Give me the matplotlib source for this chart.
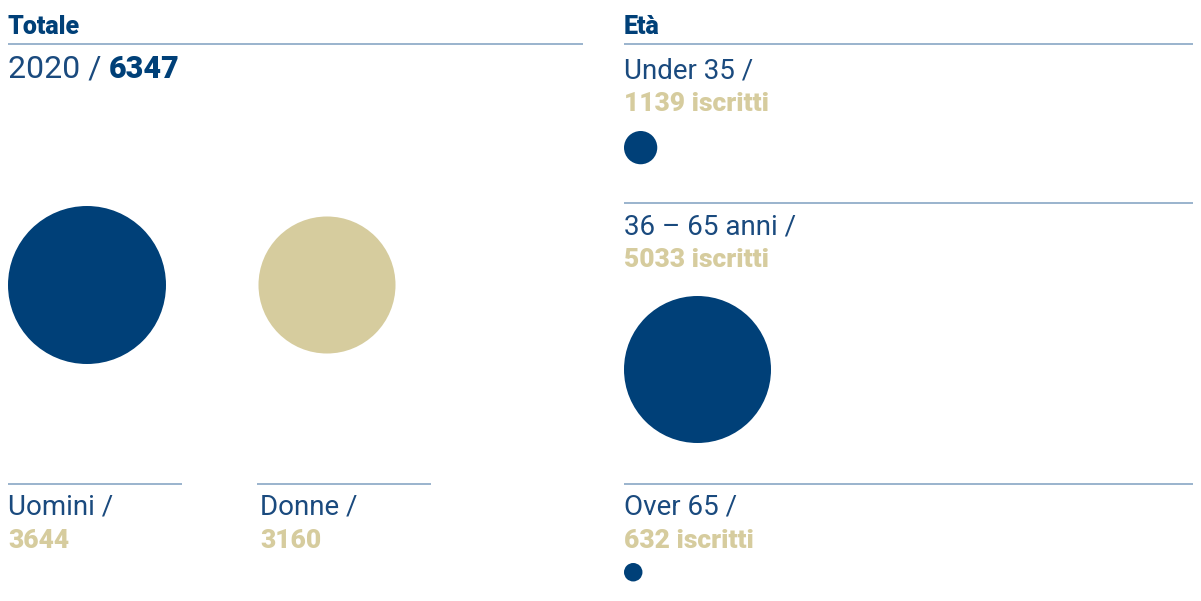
import matplotlib.pyplot as plt
from matplotlib.patches import Circle

plt.rcParams['font.family'] = ['Roboto', 'DejaVu Sans']

total_year = '2020'
total_value = 6347
gender_labels = ['Uomini', 'Donne']
gender_values = [3644, 3160]
age_labels = ['Under 35', '36 – 65 anni', 'Over 65']
age_values = [1139, 5033, 632]

blue = '#004078'
text_blue = '#1a4a7e'
beige = '#d6cc9e'
rule = '#7f9fc0'

fig = plt.figure(figsize=(12.01, 6.01), dpi=100)
ax = fig.add_axes([0, 0, 1, 1])
ax.set_xlim(0, 1201)
ax.set_ylim(601, 0)
ax.set_aspect('equal')
ax.axis('off')

# headers
ax.text(8, 34, 'Totale', fontsize=18, fontweight='heavy', color=blue, va='baseline')
ax.text(624, 34, 'Età', fontsize=18, fontweight='heavy', color=blue, va='baseline')
ax.hlines(44, 8, 583, color=rule, lw=1.1)
ax.hlines(44, 624, 1193, color=rule, lw=1.1)

t = ax.text(8, 78, total_year + ' /', fontsize=23, fontweight='normal', color=text_blue, va='baseline')
ax.annotate(str(total_value), xy=(1, 0), xycoords=t, xytext=(5, 0), textcoords='offset points',
            fontsize=22, fontweight='heavy', color=blue, va='bottom')

# gender bubbles (radius proportional to value)
g_scale = 79 / max(gender_values)
g_centers = [87, 327]
g_text_x = [8, 260]
g_line = [(8, 182), (257, 431)]
g_colors = [blue, beige]
for lab, val, cx, tx, ln, col in zip(gender_labels, gender_values, g_centers, g_text_x, g_line, g_colors):
    ax.add_patch(Circle((cx, 285), val * g_scale, color=col, lw=0))
    ax.hlines(484, ln[0], ln[1], color=rule, lw=1.1)
    ax.text(tx, 515, lab + ' /', fontsize=20, fontweight='normal', color=text_blue, va='baseline')
    ax.text(tx, 548, str(val), fontsize=19, fontweight='heavy', color=beige, va='baseline')

# age bubbles
a_scale = 73.5 / max(age_values)
a_line_y = [None, 203, 484]
a_label_y = [78, 234, 515]
a_circle_top = [131, 296, 563]
for lab, val, ly, ty, ct in zip(age_labels, age_values, a_line_y, a_label_y, a_circle_top):
    if ly is not None:
        ax.hlines(ly, 624, 1193, color=rule, lw=1.1)
    ax.text(624, ty, lab + ' /', fontsize=20, fontweight='normal', color=text_blue, va='baseline')
    ax.text(624, ty + 33, f'{val} iscritti', fontsize=19, fontweight='heavy', color=beige, va='baseline')
    r = val * a_scale
    ax.add_patch(Circle((624 + r, ct + r), r, color=blue, lw=0))

fig.savefig('out.png', dpi=100)
